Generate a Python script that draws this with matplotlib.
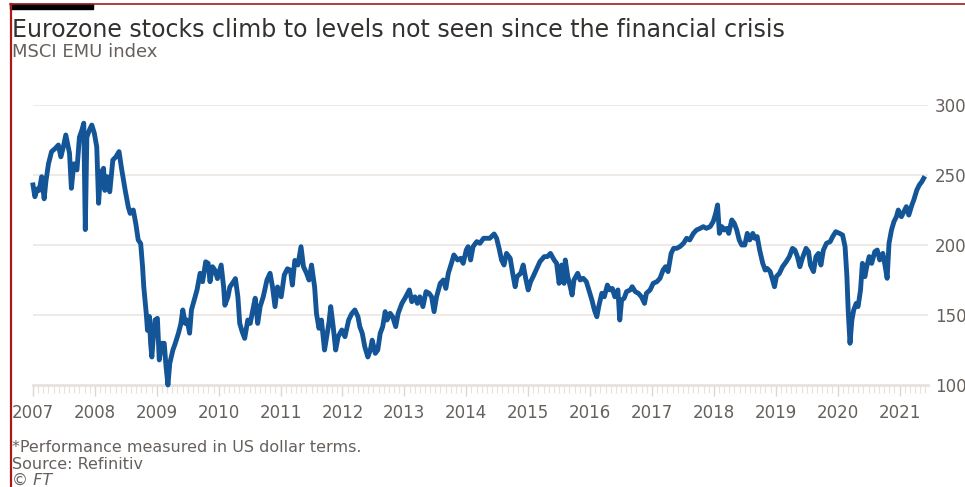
import matplotlib
matplotlib.use("Agg")
import matplotlib.pyplot as plt
from matplotlib.lines import Line2D
from matplotlib.patches import Rectangle
from matplotlib.ticker import MultipleLocator, FixedLocator

# MSCI EMU index (decimal year, index level)
dates = [
    2007.00, 2007.03, 2007.07, 2007.10, 2007.14, 2007.18, 2007.21, 2007.25, 2007.30, 2007.36,
    2007.41, 2007.45, 2007.49, 2007.53, 2007.59, 2007.62, 2007.66, 2007.71, 2007.75, 2007.79,
    2007.82, 2007.845, 2007.87, 2007.91, 2007.95, 2007.99, 2008.03, 2008.06, 2008.09, 2008.14,
    2008.16, 2008.20, 2008.24, 2008.29, 2008.34, 2008.39, 2008.43, 2008.49, 2008.54, 2008.57,
    2008.62, 2008.66, 2008.70, 2008.74, 2008.77, 2008.79, 2008.83, 2008.85, 2008.88, 2008.90,
    2008.92, 2008.94, 2008.97, 2009.01, 2009.04, 2009.08, 2009.12, 2009.15, 2009.18, 2009.21,
    2009.26, 2009.29, 2009.35, 2009.39, 2009.42, 2009.46, 2009.49, 2009.53, 2009.56, 2009.62,
    2009.65, 2009.70, 2009.74, 2009.79,
    2009.83, 2009.86, 2009.90, 2009.94, 2009.98, 2010.04, 2010.08, 2010.10, 2010.15, 2010.18,
    2010.24, 2010.27, 2010.31, 2010.34, 2010.38, 2010.42, 2010.47, 2010.51, 2010.54, 2010.59,
    2010.63, 2010.67, 2010.72, 2010.78, 2010.83, 2010.87, 2010.91, 2010.95, 2011.01, 2011.06,
    2011.11, 2011.16, 2011.19, 2011.23, 2011.28, 2011.33, 2011.37, 2011.42, 2011.46, 2011.50,
    2011.55, 2011.58, 2011.62, 2011.66, 2011.71, 2011.75, 2011.78, 2011.81, 2011.85, 2011.89,
    2011.93, 2011.99, 2012.04, 2012.10, 2012.15, 2012.20, 2012.25, 2012.28, 2012.32, 2012.36,
    2012.41, 2012.45, 2012.48, 2012.53, 2012.57,
    2012.61, 2012.65, 2012.69, 2012.72, 2012.77, 2012.81, 2012.86, 2012.90, 2012.96, 2013.01,
    2013.08, 2013.12, 2013.17, 2013.21, 2013.25, 2013.30, 2013.35, 2013.40, 2013.44, 2013.48,
    2013.52, 2013.58, 2013.63, 2013.67, 2013.71, 2013.76, 2013.80, 2013.86, 2013.91, 2013.95,
    2014.00, 2014.03, 2014.07, 2014.11, 2014.17, 2014.22, 2014.28, 2014.33, 2014.38, 2014.45,
    2014.49, 2014.53, 2014.57, 2014.61, 2014.65, 2014.71, 2014.75, 2014.79, 2014.82, 2014.88,
    2014.92, 2014.96, 2015.00, 2015.04, 2015.08, 2015.14, 2015.19, 2015.26, 2015.31, 2015.36,
    2015.42, 2015.46, 2015.50, 2015.54, 2015.58,
    2015.60, 2015.64, 2015.68, 2015.71, 2015.74, 2015.80, 2015.84, 2015.89, 2015.94, 2015.98,
    2016.03, 2016.07, 2016.11, 2016.14, 2016.19, 2016.23, 2016.28, 2016.32, 2016.36, 2016.40,
    2016.45, 2016.48, 2016.51, 2016.55, 2016.59, 2016.65, 2016.68, 2016.73, 2016.78, 2016.83,
    2016.88, 2016.91, 2016.97, 2017.02, 2017.08, 2017.13, 2017.18, 2017.22, 2017.26, 2017.31,
    2017.35, 2017.40, 2017.45, 2017.51, 2017.56, 2017.61, 2017.67, 2017.72, 2017.78, 2017.83,
    2017.88, 2017.94, 2017.99, 2018.03, 2018.06, 2018.09, 2018.13, 2018.17, 2018.21, 2018.24,
    2018.29, 2018.33, 2018.37, 2018.41, 2018.45,
    2018.50, 2018.54, 2018.58, 2018.63, 2018.66, 2018.70, 2018.74, 2018.79, 2018.83, 2018.86,
    2018.91, 2018.95, 2018.98, 2019.01, 2019.06, 2019.11, 2019.17, 2019.22, 2019.27, 2019.31,
    2019.35, 2019.39, 2019.43, 2019.49, 2019.53, 2019.56, 2019.61, 2019.65, 2019.69, 2019.73,
    2019.77, 2019.82, 2019.88, 2019.92, 2019.97, 2020.03, 2020.08, 2020.12, 2020.15, 2020.17,
    2020.20, 2020.23, 2020.26, 2020.30, 2020.33, 2020.37, 2020.40, 2020.44, 2020.47, 2020.51,
    2020.55, 2020.60, 2020.64, 2020.68, 2020.73, 2020.76, 2020.80, 2020.83, 2020.87, 2020.91,
    2020.95, 2020.98, 2021.03, 2021.07, 2021.11, 2021.15, 2021.20, 2021.23, 2021.28, 2021.32,
    2021.36, 2021.39,
]
index_level = [
    242.9, 234.5, 240.0, 239.0, 248.8, 233.0, 246.0, 258.0, 266.7, 269.0,
    271.4, 263.0, 270.0, 278.6, 265.5, 240.5, 258.0, 253.6, 277.0, 282.0,
    287.0, 211.0, 277.0, 282.0, 285.7, 280.0, 270.0, 229.8, 251.0, 254.8,
    239.0, 248.8, 238.0, 260.7, 263.0, 266.7, 254.8, 239.0, 227.0, 222.6,
    225.0, 215.5, 203.6, 201.0, 184.5, 170.0, 151.0, 139.0, 149.0, 129.8,
    120.0, 132.0, 146.4, 147.6, 117.9, 129.8, 129.8, 113.0, 100.0, 115.5,
    125.0, 128.6, 137.0, 144.0, 153.6, 144.0, 146.4, 137.0, 153.6, 163.0,
    167.9, 179.8, 173.8, 188.0,
    186.9, 173.8, 184.5, 182.0, 176.0, 185.7, 170.0, 157.0, 163.0, 170.0,
    173.8, 176.0, 163.0, 144.0, 138.0, 133.3, 146.4, 144.0, 151.0, 162.0,
    144.0, 156.0, 163.0, 175.0, 179.8, 170.0, 156.0, 170.0, 163.0, 178.6,
    183.0, 182.0, 171.4, 189.0, 185.7, 198.8, 184.5, 179.8, 175.0, 185.7,
    170.0, 151.0, 140.5, 146.4, 125.0, 135.7, 144.0, 156.0, 141.7, 125.0,
    134.5, 139.3, 134.5, 146.4, 151.0, 153.6, 148.8, 141.7, 136.9, 127.4,
    120.0, 125.0, 132.0, 122.6, 125.0,
    136.9, 141.7, 152.4, 146.4, 151.2, 148.8, 141.7, 151.2, 158.3, 162.0,
    167.9, 159.5, 163.0, 158.3, 163.0, 156.0, 166.7, 165.5, 163.0, 152.4,
    163.0, 172.6, 175.0, 169.0, 179.8, 186.9, 192.9, 189.3, 190.5, 186.9,
    196.4, 198.8, 189.3, 198.8, 202.4, 201.2, 204.8, 204.8, 204.8, 207.9,
    204.8, 197.6, 189.3, 185.7, 194.0, 190.5, 179.8, 170.2, 177.4, 179.8,
    185.7, 176.2, 167.9, 173.8, 177.4, 183.3, 188.1, 191.7, 191.7, 194.0,
    189.3, 186.9, 172.6, 185.7, 172.6,
    189.3, 177.4, 170.2, 164.3, 175.0, 179.8, 175.0, 176.2, 173.8, 167.9,
    160.7, 153.6, 148.8, 156.0, 165.5, 163.0, 171.4, 167.9, 169.0, 163.0,
    167.9, 146.4, 160.7, 161.9, 166.7, 167.9, 170.2, 166.7, 165.5, 163.0,
    158.3, 165.5, 167.9, 172.6, 173.8, 176.2, 182.1, 184.5, 181.0, 194.0,
    197.6, 197.6, 198.8, 201.2, 204.8, 203.6, 208.3, 210.7, 211.9, 213.1,
    211.9, 213.1, 216.7, 222.6, 228.6, 208.3, 213.1, 210.7, 211.9, 208.3,
    217.9, 215.5, 210.7, 203.6, 200.0,
    200.0, 208.3, 203.6, 208.3, 204.8, 206.0, 196.4, 186.9, 182.1, 183.3,
    181.0, 175.0, 170.2, 177.4, 179.8, 184.5, 188.1, 191.7, 197.6, 196.4,
    191.7, 184.5, 190.5, 197.6, 195.2, 185.7, 181.0, 191.7, 194.0, 185.7,
    196.4, 201.2, 202.4, 206.0, 209.5, 208.3, 207.1, 198.8, 177.4, 153.6,
    129.8, 146.4, 153.6, 158.3, 156.0, 167.9, 186.9, 177.4, 184.5, 191.7,
    186.9, 195.2, 196.4, 189.3, 194.0, 186.9, 176.2, 201.2, 210.7, 216.7,
    220.2, 225.0, 220.2, 223.8, 227.4, 221.4, 228.6, 232.1, 239.3, 242.9,
    245.2, 247.6,
]
year_ticks = list(range(2007, 2022))
y_ticks = [100, 150, 200, 250, 300]

title = "Eurozone stocks climb to levels not seen since the financial crisis"
subtitle = "MSCI EMU index"
footnote = "*Performance measured in US dollar terms."
source = "Source: Refinitiv"
credit = "\u00a9 FT"

W, H = 965, 487
LINE = "#135597"
GREY = "#66605c"
GRID = "#efe8e4"

fig = plt.figure(figsize=(W / 100, H / 100), dpi=100, facecolor="white")

# plot area in pixels: x 33..928, y 105..385
ax = fig.add_axes([33 / W, 1 - 385 / H, 895 / W, 280 / H])
ax.plot(dates, index_level, color=LINE, lw=3.5, solid_joinstyle="round",
        clip_on=False, zorder=3)

ax.set_xlim(2007.0, 2021.46)
ax.set_ylim(100, 300)

for s in ["top", "left", "right"]:
    ax.spines[s].set_visible(False)
ax.spines["bottom"].set_color("#e8e2de")
ax.spines["bottom"].set_linewidth(2)

ax.yaxis.tick_right()
ax.yaxis.set_major_locator(FixedLocator(y_ticks))
ax.set_yticklabels([str(v) for v in y_ticks])
ax.tick_params(axis="y", length=0, pad=5, labelsize=12, labelcolor=GREY)
for v in y_ticks[1:]:
    ax.axhline(v, color=GRID, lw=1.3, zorder=1)

ax.xaxis.set_major_locator(FixedLocator(year_ticks))
ax.set_xticklabels([str(y) for y in year_ticks])
ax.xaxis.set_minor_locator(MultipleLocator(1 / 12))
ax.tick_params(axis="x", which="major", length=8, width=1, color="#dcd6d2",
               pad=6, labelsize=12, labelcolor=GREY)
ax.tick_params(axis="x", which="minor", length=6, width=0.8, color="#e6e1dd")

# texts
fig.text(12 / W, 1 - 37 / H, title, fontsize=17, color="#33302e", va="baseline")
fig.text(12 / W, 1 - 57 / H, subtitle, fontsize=13, color=GREY, va="baseline")
fig.text(12 / W, 1 - 452 / H, footnote, fontsize=11.5, color=GREY, va="baseline")
fig.text(12 / W, 1 - 469 / H, source, fontsize=11.5, color=GREY, va="baseline")
fig.text(12 / W, 1 - 485 / H, credit, fontsize=11.5, color=GREY, va="baseline",
         style="italic")

# frame decoration: red left / top rule and black tab
fig.add_artist(Line2D([10.5 / W, 10.5 / W], [0, 1 - 4 / H], color="#a8191c",
                      lw=1.6, transform=fig.transFigure))
fig.add_artist(Line2D([10 / W, 1], [1 - 4 / H, 1 - 4 / H], color="#a8191c",
                      lw=1.2, transform=fig.transFigure))
fig.add_artist(Rectangle((10 / W, 1 - 8.5 / H), 83 / W, 4 / H, color="black",
                         transform=fig.transFigure))

fig.savefig("out.png", dpi=100, facecolor="white")
